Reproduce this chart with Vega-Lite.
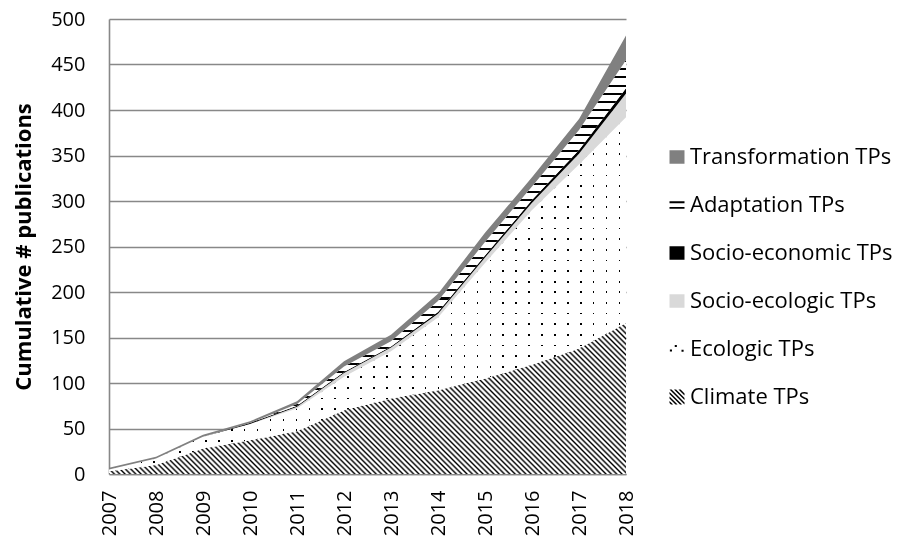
{
"$schema": "https://vega.github.io/schema/vega-lite/v6.json",
"padding": {"left": 12, "top": 9, "right": 0, "bottom": 0},
"config": {"view": {"stroke": null}, "font": "Open Sans"},
"resolve": {"scale": {"x": "independent", "y": "independent"}},
"spacing": 33,
"datasets": {
"counts": [
{"year": 2007, "Climate TPs": 3, "Ecologic TPs": 2, "Socio-ecologic TPs": 0, "Socio-economic TPs": 0, "Adaptation TPs": 0, "Transformation TPs": 2},
{"year": 2008, "Climate TPs": 10, "Ecologic TPs": 7, "Socio-ecologic TPs": 0, "Socio-economic TPs": 0, "Adaptation TPs": 0, "Transformation TPs": 2},
{"year": 2009, "Climate TPs": 28, "Ecologic TPs": 13, "Socio-ecologic TPs": 0, "Socio-economic TPs": 0, "Adaptation TPs": 0, "Transformation TPs": 2},
{"year": 2010, "Climate TPs": 37, "Ecologic TPs": 18, "Socio-ecologic TPs": 0, "Socio-economic TPs": 1, "Adaptation TPs": 0, "Transformation TPs": 2},
{"year": 2011, "Climate TPs": 47, "Ecologic TPs": 25, "Socio-ecologic TPs": 2, "Socio-economic TPs": 1, "Adaptation TPs": 2, "Transformation TPs": 3},
{"year": 2012, "Climate TPs": 70, "Ecologic TPs": 37, "Socio-ecologic TPs": 4, "Socio-economic TPs": 1, "Adaptation TPs": 6, "Transformation TPs": 6},
{"year": 2013, "Climate TPs": 83, "Ecologic TPs": 52, "Socio-ecologic TPs": 4, "Socio-economic TPs": 1, "Adaptation TPs": 6, "Transformation TPs": 7},
{"year": 2014, "Climate TPs": 92, "Ecologic TPs": 80, "Socio-ecologic TPs": 4, "Socio-economic TPs": 2, "Adaptation TPs": 12, "Transformation TPs": 8},
{"year": 2015, "Climate TPs": 105, "Ecologic TPs": 127, "Socio-ecologic TPs": 6, "Socio-economic TPs": 2, "Adaptation TPs": 15, "Transformation TPs": 10},
{"year": 2016, "Climate TPs": 120, "Ecologic TPs": 170, "Socio-ecologic TPs": 8, "Socio-economic TPs": 3, "Adaptation TPs": 15, "Transformation TPs": 10},
{"year": 2017, "Climate TPs": 138, "Ecologic TPs": 202, "Socio-ecologic TPs": 12, "Socio-economic TPs": 4, "Adaptation TPs": 22, "Transformation TPs": 12},
{"year": 2018, "Climate TPs": 166, "Ecologic TPs": 226, "Socio-ecologic TPs": 26, "Socio-economic TPs": 6, "Adaptation TPs": 31, "Transformation TPs": 27}
],
"series": [
{"series": "Transformation TPs", "rank": 6},
{"series": "Adaptation TPs", "rank": 5},
{"series": "Socio-economic TPs", "rank": 4},
{"series": "Socio-ecologic TPs", "rank": 3},
{"series": "Ecologic TPs", "rank": 2},
{"series": "Climate TPs", "rank": 1}
]
},
"hconcat": [
{
"width": 517,
"height": 455,
"data": {"name": "counts"},
"transform": [
{"fold": ["Climate TPs", "Ecologic TPs", "Socio-ecologic TPs", "Socio-economic TPs", "Adaptation TPs", "Transformation TPs"], "as": ["series", "n"]},
{"lookup": "series", "from": {"data": {"name": "series"}, "key": "series", "fields": ["rank"]}},
{"stack": "n", "groupby": ["year"], "sort": [{"field": "rank", "order": "ascending"}], "as": ["n0", "n1"]}
],
"encoding": {
"x": {"field": "year", "type": "quantitative", "scale": {"domain": [2007, 2018], "nice": false, "zero": false},
 "axis": {"values": [2007,2008,2009,2010,2011,2012,2013,2014,2015,2016,2017,2018], "format": "d", "title": null, "labelAngle": 270, "labelPadding": 16, "ticks": false, "grid": false, "domainColor": "#888888", "domainWidth": 1.6, "labelFontSize": 20, "labelColor": "#000", "labelFlush": false, "labelOverlap": false, "labelBound": false}},
"y": {"field": "n1", "type": "quantitative", "scale": {"domain": [0, 500], "nice": false},
 "axis": {"values": [0,50,100,150,200,250,300,350,400,450,500], "title": "Cumulative # publications", "titleFontSize": 22, "titleFontWeight": "bold", "titleColor": "#000", "titlePadding": 15, "labelPadding": 24, "ticks": false, "labelFontSize": 20, "labelColor": "#000", "domainColor": "#888888", "domainWidth": 1.6, "gridColor": "#888888", "gridWidth": 1.6, "labelFlush": false}},
"y2": {"field": "n0"}
},
"layer": [
{"transform": [{"filter": {"field": "series", "equal": "Climate TPs"}}],
 "mark": {"type": "area", "fill": {"gradient": "linear", "x1": 0, "y1": 1, "x2": 1.1905, "y2": 0.6524, "stops": [
{"offset":0,"color":"#000"},{"offset":0.003,"color":"#fff"},{"offset":0.005,"color":"#fff"},
{"offset":0.008,"color":"#000"},{"offset":0.011,"color":"#fff"},{"offset":0.013,"color":"#fff"},
{"offset":0.016,"color":"#000"},{"offset":0.019,"color":"#fff"},{"offset":0.021,"color":"#fff"},
{"offset":0.024,"color":"#000"},{"offset":0.027,"color":"#fff"},{"offset":0.029,"color":"#fff"},
{"offset":0.032,"color":"#000"},{"offset":0.035,"color":"#fff"},{"offset":0.037,"color":"#fff"},
{"offset":0.04,"color":"#000"},{"offset":0.043,"color":"#fff"},{"offset":0.045,"color":"#fff"},
{"offset":0.048,"color":"#000"},{"offset":0.051,"color":"#fff"},{"offset":0.053,"color":"#fff"},
{"offset":0.056,"color":"#000"},{"offset":0.059,"color":"#fff"},{"offset":0.061,"color":"#fff"},
{"offset":0.064,"color":"#000"},{"offset":0.067,"color":"#fff"},{"offset":0.069,"color":"#fff"},
{"offset":0.072,"color":"#000"},{"offset":0.075,"color":"#fff"},{"offset":0.077,"color":"#fff"},
{"offset":0.08,"color":"#000"},{"offset":0.083,"color":"#fff"},{"offset":0.085,"color":"#fff"},
{"offset":0.088,"color":"#000"},{"offset":0.091,"color":"#fff"},{"offset":0.093,"color":"#fff"},
{"offset":0.096,"color":"#000"},{"offset":0.099,"color":"#fff"},{"offset":0.101,"color":"#fff"},
{"offset":0.104,"color":"#000"},{"offset":0.107,"color":"#fff"},{"offset":0.109,"color":"#fff"},
{"offset":0.112,"color":"#000"},{"offset":0.115,"color":"#fff"},{"offset":0.117,"color":"#fff"},
{"offset":0.12,"color":"#000"},{"offset":0.123,"color":"#fff"},{"offset":0.125,"color":"#fff"},
{"offset":0.128,"color":"#000"},{"offset":0.131,"color":"#fff"},{"offset":0.133,"color":"#fff"},
{"offset":0.136,"color":"#000"},{"offset":0.139,"color":"#fff"},{"offset":0.141,"color":"#fff"},
{"offset":0.144,"color":"#000"},{"offset":0.147,"color":"#fff"},{"offset":0.149,"color":"#fff"},
{"offset":0.152,"color":"#000"},{"offset":0.155,"color":"#fff"},{"offset":0.157,"color":"#fff"},
{"offset":0.16,"color":"#000"},{"offset":0.163,"color":"#fff"},{"offset":0.165,"color":"#fff"},
{"offset":0.168,"color":"#000"},{"offset":0.171,"color":"#fff"},{"offset":0.173,"color":"#fff"},
{"offset":0.176,"color":"#000"},{"offset":0.179,"color":"#fff"},{"offset":0.181,"color":"#fff"},
{"offset":0.184,"color":"#000"},{"offset":0.187,"color":"#fff"},{"offset":0.189,"color":"#fff"},
{"offset":0.192,"color":"#000"},{"offset":0.195,"color":"#fff"},{"offset":0.197,"color":"#fff"},
{"offset":0.2,"color":"#000"},{"offset":0.203,"color":"#fff"},{"offset":0.205,"color":"#fff"},
{"offset":0.208,"color":"#000"},{"offset":0.211,"color":"#fff"},{"offset":0.213,"color":"#fff"},
{"offset":0.216,"color":"#000"},{"offset":0.219,"color":"#fff"},{"offset":0.221,"color":"#fff"},
{"offset":0.224,"color":"#000"},{"offset":0.227,"color":"#fff"},{"offset":0.229,"color":"#fff"},
{"offset":0.232,"color":"#000"},{"offset":0.235,"color":"#fff"},{"offset":0.237,"color":"#fff"},
{"offset":0.24,"color":"#000"},{"offset":0.243,"color":"#fff"},{"offset":0.245,"color":"#fff"},
{"offset":0.248,"color":"#000"},{"offset":0.251,"color":"#fff"},{"offset":0.253,"color":"#fff"},
{"offset":0.256,"color":"#000"},{"offset":0.259,"color":"#fff"},{"offset":0.261,"color":"#fff"},
{"offset":0.264,"color":"#000"},{"offset":0.267,"color":"#fff"},{"offset":0.269,"color":"#fff"},
{"offset":0.272,"color":"#000"},{"offset":0.275,"color":"#fff"},{"offset":0.277,"color":"#fff"},
{"offset":0.28,"color":"#000"},{"offset":0.283,"color":"#fff"},{"offset":0.285,"color":"#fff"},
{"offset":0.288,"color":"#000"},{"offset":0.291,"color":"#fff"},{"offset":0.293,"color":"#fff"},
{"offset":0.296,"color":"#000"},{"offset":0.299,"color":"#fff"},{"offset":0.301,"color":"#fff"},
{"offset":0.304,"color":"#000"},{"offset":0.307,"color":"#fff"},{"offset":0.309,"color":"#fff"},
{"offset":0.312,"color":"#000"},{"offset":0.315,"color":"#fff"},{"offset":0.317,"color":"#fff"},
{"offset":0.32,"color":"#000"},{"offset":0.323,"color":"#fff"},{"offset":0.325,"color":"#fff"},
{"offset":0.328,"color":"#000"},{"offset":0.331,"color":"#fff"},{"offset":0.333,"color":"#fff"},
{"offset":0.336,"color":"#000"},{"offset":0.339,"color":"#fff"},{"offset":0.341,"color":"#fff"},
{"offset":0.344,"color":"#000"},{"offset":0.347,"color":"#fff"},{"offset":0.349,"color":"#fff"},
{"offset":0.352,"color":"#000"},{"offset":0.355,"color":"#fff"},{"offset":0.357,"color":"#fff"},
{"offset":0.36,"color":"#000"},{"offset":0.363,"color":"#fff"},{"offset":0.365,"color":"#fff"},
{"offset":0.368,"color":"#000"},{"offset":0.371,"color":"#fff"},{"offset":0.373,"color":"#fff"},
{"offset":0.376,"color":"#000"},{"offset":0.379,"color":"#fff"},{"offset":0.381,"color":"#fff"},
{"offset":0.384,"color":"#000"},{"offset":0.387,"color":"#fff"},{"offset":0.389,"color":"#fff"},
{"offset":0.392,"color":"#000"},{"offset":0.395,"color":"#fff"},{"offset":0.397,"color":"#fff"},
{"offset":0.4,"color":"#000"},{"offset":0.403,"color":"#fff"},{"offset":0.405,"color":"#fff"},
{"offset":0.408,"color":"#000"},{"offset":0.411,"color":"#fff"},{"offset":0.413,"color":"#fff"},
{"offset":0.416,"color":"#000"},{"offset":0.419,"color":"#fff"},{"offset":0.421,"color":"#fff"},
{"offset":0.424,"color":"#000"},{"offset":0.427,"color":"#fff"},{"offset":0.429,"color":"#fff"},
{"offset":0.432,"color":"#000"},{"offset":0.435,"color":"#fff"},{"offset":0.437,"color":"#fff"},
{"offset":0.44,"color":"#000"},{"offset":0.443,"color":"#fff"},{"offset":0.445,"color":"#fff"},
{"offset":0.448,"color":"#000"},{"offset":0.451,"color":"#fff"},{"offset":0.453,"color":"#fff"},
{"offset":0.456,"color":"#000"},{"offset":0.459,"color":"#fff"},{"offset":0.461,"color":"#fff"},
{"offset":0.464,"color":"#000"},{"offset":0.467,"color":"#fff"},{"offset":0.469,"color":"#fff"},
{"offset":0.472,"color":"#000"},{"offset":0.475,"color":"#fff"},{"offset":0.477,"color":"#fff"},
{"offset":0.48,"color":"#000"},{"offset":0.483,"color":"#fff"},{"offset":0.485,"color":"#fff"},
{"offset":0.488,"color":"#000"},{"offset":0.491,"color":"#fff"},{"offset":0.493,"color":"#fff"},
{"offset":0.496,"color":"#000"},{"offset":0.499,"color":"#fff"},{"offset":0.501,"color":"#fff"},
{"offset":0.504,"color":"#000"},{"offset":0.507,"color":"#fff"},{"offset":0.509,"color":"#fff"},
{"offset":0.512,"color":"#000"},{"offset":0.515,"color":"#fff"},{"offset":0.517,"color":"#fff"},
{"offset":0.52,"color":"#000"},{"offset":0.523,"color":"#fff"},{"offset":0.525,"color":"#fff"},
{"offset":0.528,"color":"#000"},{"offset":0.531,"color":"#fff"},{"offset":0.533,"color":"#fff"},
{"offset":0.536,"color":"#000"},{"offset":0.539,"color":"#fff"},{"offset":0.541,"color":"#fff"},
{"offset":0.544,"color":"#000"},{"offset":0.547,"color":"#fff"},{"offset":0.549,"color":"#fff"},
{"offset":0.552,"color":"#000"},{"offset":0.555,"color":"#fff"},{"offset":0.557,"color":"#fff"},
{"offset":0.56,"color":"#000"},{"offset":0.563,"color":"#fff"},{"offset":0.565,"color":"#fff"},
{"offset":0.568,"color":"#000"},{"offset":0.571,"color":"#fff"},{"offset":0.573,"color":"#fff"},
{"offset":0.576,"color":"#000"},{"offset":0.579,"color":"#fff"},{"offset":0.581,"color":"#fff"},
{"offset":0.584,"color":"#000"},{"offset":0.587,"color":"#fff"},{"offset":0.589,"color":"#fff"},
{"offset":0.592,"color":"#000"},{"offset":0.595,"color":"#fff"},{"offset":0.597,"color":"#fff"},
{"offset":0.6,"color":"#000"},{"offset":0.603,"color":"#fff"},{"offset":0.605,"color":"#fff"},
{"offset":0.608,"color":"#000"},{"offset":0.611,"color":"#fff"},{"offset":0.613,"color":"#fff"},
{"offset":0.616,"color":"#000"},{"offset":0.619,"color":"#fff"},{"offset":0.621,"color":"#fff"},
{"offset":0.624,"color":"#000"},{"offset":0.627,"color":"#fff"},{"offset":0.629,"color":"#fff"},
{"offset":0.632,"color":"#000"},{"offset":0.635,"color":"#fff"},{"offset":0.637,"color":"#fff"},
{"offset":0.64,"color":"#000"},{"offset":0.643,"color":"#fff"},{"offset":0.645,"color":"#fff"},
{"offset":0.648,"color":"#000"},{"offset":0.651,"color":"#fff"},{"offset":0.653,"color":"#fff"},
{"offset":0.656,"color":"#000"},{"offset":0.659,"color":"#fff"},{"offset":0.661,"color":"#fff"},
{"offset":0.664,"color":"#000"},{"offset":0.667,"color":"#fff"},{"offset":0.669,"color":"#fff"},
{"offset":0.672,"color":"#000"},{"offset":0.675,"color":"#fff"},{"offset":0.677,"color":"#fff"},
{"offset":0.68,"color":"#000"},{"offset":0.683,"color":"#fff"},{"offset":0.685,"color":"#fff"},
{"offset":0.688,"color":"#000"},{"offset":0.691,"color":"#fff"},{"offset":0.693,"color":"#fff"},
{"offset":0.696,"color":"#000"},{"offset":0.699,"color":"#fff"},{"offset":0.701,"color":"#fff"},
{"offset":0.704,"color":"#000"},{"offset":0.707,"color":"#fff"},{"offset":0.709,"color":"#fff"},
{"offset":0.712,"color":"#000"},{"offset":0.715,"color":"#fff"},{"offset":0.717,"color":"#fff"},
{"offset":0.72,"color":"#000"},{"offset":0.723,"color":"#fff"},{"offset":0.725,"color":"#fff"},
{"offset":0.728,"color":"#000"},{"offset":0.731,"color":"#fff"},{"offset":0.733,"color":"#fff"},
{"offset":0.736,"color":"#000"},{"offset":0.739,"color":"#fff"},{"offset":0.741,"color":"#fff"},
{"offset":0.744,"color":"#000"},{"offset":0.747,"color":"#fff"},{"offset":0.749,"color":"#fff"},
{"offset":0.752,"color":"#000"},{"offset":0.755,"color":"#fff"},{"offset":0.757,"color":"#fff"},
{"offset":0.76,"color":"#000"},{"offset":0.763,"color":"#fff"},{"offset":0.765,"color":"#fff"},
{"offset":0.768,"color":"#000"},{"offset":0.771,"color":"#fff"},{"offset":0.773,"color":"#fff"},
{"offset":0.776,"color":"#000"},{"offset":0.779,"color":"#fff"},{"offset":0.781,"color":"#fff"},
{"offset":0.784,"color":"#000"},{"offset":0.787,"color":"#fff"},{"offset":0.789,"color":"#fff"},
{"offset":0.792,"color":"#000"},{"offset":0.795,"color":"#fff"},{"offset":0.797,"color":"#fff"},
{"offset":0.8,"color":"#000"},{"offset":0.803,"color":"#fff"},{"offset":0.805,"color":"#fff"},
{"offset":0.808,"color":"#000"},{"offset":0.811,"color":"#fff"},{"offset":0.813,"color":"#fff"},
{"offset":0.816,"color":"#000"},{"offset":0.819,"color":"#fff"},{"offset":0.821,"color":"#fff"},
{"offset":0.824,"color":"#000"},{"offset":0.827,"color":"#fff"},{"offset":0.829,"color":"#fff"},
{"offset":0.832,"color":"#000"},{"offset":0.835,"color":"#fff"},{"offset":0.837,"color":"#fff"},
{"offset":0.84,"color":"#000"},{"offset":0.843,"color":"#fff"},{"offset":0.845,"color":"#fff"},
{"offset":0.848,"color":"#000"},{"offset":0.851,"color":"#fff"},{"offset":0.853,"color":"#fff"},
{"offset":0.856,"color":"#000"},{"offset":0.859,"color":"#fff"},{"offset":0.861,"color":"#fff"},
{"offset":0.864,"color":"#000"},{"offset":0.867,"color":"#fff"},{"offset":0.869,"color":"#fff"},
{"offset":0.872,"color":"#000"},{"offset":0.875,"color":"#fff"},{"offset":0.877,"color":"#fff"},
{"offset":0.88,"color":"#000"},{"offset":0.883,"color":"#fff"},{"offset":0.885,"color":"#fff"},
{"offset":0.888,"color":"#000"},{"offset":0.891,"color":"#fff"},{"offset":0.893,"color":"#fff"},
{"offset":0.896,"color":"#000"},{"offset":0.899,"color":"#fff"},{"offset":0.901,"color":"#fff"},
{"offset":0.904,"color":"#000"},{"offset":0.907,"color":"#fff"},{"offset":0.909,"color":"#fff"},
{"offset":0.912,"color":"#000"},{"offset":0.915,"color":"#fff"},{"offset":0.917,"color":"#fff"},
{"offset":0.92,"color":"#000"},{"offset":0.923,"color":"#fff"},{"offset":0.925,"color":"#fff"},
{"offset":0.928,"color":"#000"},{"offset":0.931,"color":"#fff"},{"offset":0.933,"color":"#fff"},
{"offset":0.936,"color":"#000"},{"offset":0.939,"color":"#fff"},{"offset":0.941,"color":"#fff"},
{"offset":0.944,"color":"#000"},{"offset":0.947,"color":"#fff"},{"offset":0.949,"color":"#fff"},
{"offset":0.952,"color":"#000"},{"offset":0.955,"color":"#fff"},{"offset":0.957,"color":"#fff"},
{"offset":0.96,"color":"#000"},{"offset":0.963,"color":"#fff"},{"offset":0.965,"color":"#fff"},
{"offset":0.968,"color":"#000"},{"offset":0.971,"color":"#fff"},{"offset":0.973,"color":"#fff"},
{"offset":0.976,"color":"#000"},{"offset":0.979,"color":"#fff"},{"offset":0.981,"color":"#fff"},
{"offset":0.984,"color":"#000"},{"offset":0.987,"color":"#fff"},{"offset":0.989,"color":"#fff"},
{"offset":0.992,"color":"#000"},{"offset":0.995,"color":"#fff"},{"offset":0.997,"color":"#fff"},
{"offset":1,"color":"#000"}
]}}},
{"transform": [{"filter": {"field": "series", "equal": "Ecologic TPs"}}],
 "mark": {"type": "area", "fill": {"gradient": "linear", "x1": 0, "y1": 0, "x2": 1, "y2": 0, "stops": [
{"offset":0,"color":"#fff"},
{"offset":0.011,"color":"#fff"},{"offset":0.011,"color":"#000"},{"offset":0.014,"color":"#000"},{"offset":0.014,"color":"#fff"},
{"offset":0.036,"color":"#fff"},{"offset":0.036,"color":"#000"},{"offset":0.039,"color":"#000"},{"offset":0.039,"color":"#fff"},
{"offset":0.061,"color":"#fff"},{"offset":0.061,"color":"#000"},{"offset":0.064,"color":"#000"},{"offset":0.064,"color":"#fff"},
{"offset":0.086,"color":"#fff"},{"offset":0.086,"color":"#000"},{"offset":0.089,"color":"#000"},{"offset":0.089,"color":"#fff"},
{"offset":0.111,"color":"#fff"},{"offset":0.111,"color":"#000"},{"offset":0.114,"color":"#000"},{"offset":0.114,"color":"#fff"},
{"offset":0.136,"color":"#fff"},{"offset":0.136,"color":"#000"},{"offset":0.139,"color":"#000"},{"offset":0.139,"color":"#fff"},
{"offset":0.161,"color":"#fff"},{"offset":0.161,"color":"#000"},{"offset":0.164,"color":"#000"},{"offset":0.164,"color":"#fff"},
{"offset":0.186,"color":"#fff"},{"offset":0.186,"color":"#000"},{"offset":0.189,"color":"#000"},{"offset":0.189,"color":"#fff"},
{"offset":0.211,"color":"#fff"},{"offset":0.211,"color":"#000"},{"offset":0.214,"color":"#000"},{"offset":0.214,"color":"#fff"},
{"offset":0.236,"color":"#fff"},{"offset":0.236,"color":"#000"},{"offset":0.239,"color":"#000"},{"offset":0.239,"color":"#fff"},
{"offset":0.261,"color":"#fff"},{"offset":0.261,"color":"#000"},{"offset":0.264,"color":"#000"},{"offset":0.264,"color":"#fff"},
{"offset":0.286,"color":"#fff"},{"offset":0.286,"color":"#000"},{"offset":0.289,"color":"#000"},{"offset":0.289,"color":"#fff"},
{"offset":0.311,"color":"#fff"},{"offset":0.311,"color":"#000"},{"offset":0.314,"color":"#000"},{"offset":0.314,"color":"#fff"},
{"offset":0.336,"color":"#fff"},{"offset":0.336,"color":"#000"},{"offset":0.339,"color":"#000"},{"offset":0.339,"color":"#fff"},
{"offset":0.361,"color":"#fff"},{"offset":0.361,"color":"#000"},{"offset":0.364,"color":"#000"},{"offset":0.364,"color":"#fff"},
{"offset":0.386,"color":"#fff"},{"offset":0.386,"color":"#000"},{"offset":0.389,"color":"#000"},{"offset":0.389,"color":"#fff"},
{"offset":0.411,"color":"#fff"},{"offset":0.411,"color":"#000"},{"offset":0.414,"color":"#000"},{"offset":0.414,"color":"#fff"},
{"offset":0.436,"color":"#fff"},{"offset":0.436,"color":"#000"},{"offset":0.439,"color":"#000"},{"offset":0.439,"color":"#fff"},
{"offset":0.461,"color":"#fff"},{"offset":0.461,"color":"#000"},{"offset":0.464,"color":"#000"},{"offset":0.464,"color":"#fff"},
{"offset":0.486,"color":"#fff"},{"offset":0.486,"color":"#000"},{"offset":0.489,"color":"#000"},{"offset":0.489,"color":"#fff"},
{"offset":0.511,"color":"#fff"},{"offset":0.511,"color":"#000"},{"offset":0.514,"color":"#000"},{"offset":0.514,"color":"#fff"},
{"offset":0.536,"color":"#fff"},{"offset":0.536,"color":"#000"},{"offset":0.539,"color":"#000"},{"offset":0.539,"color":"#fff"},
{"offset":0.561,"color":"#fff"},{"offset":0.561,"color":"#000"},{"offset":0.564,"color":"#000"},{"offset":0.564,"color":"#fff"},
{"offset":0.586,"color":"#fff"},{"offset":0.586,"color":"#000"},{"offset":0.589,"color":"#000"},{"offset":0.589,"color":"#fff"},
{"offset":0.611,"color":"#fff"},{"offset":0.611,"color":"#000"},{"offset":0.614,"color":"#000"},{"offset":0.614,"color":"#fff"},
{"offset":0.636,"color":"#fff"},{"offset":0.636,"color":"#000"},{"offset":0.639,"color":"#000"},{"offset":0.639,"color":"#fff"},
{"offset":0.661,"color":"#fff"},{"offset":0.661,"color":"#000"},{"offset":0.664,"color":"#000"},{"offset":0.664,"color":"#fff"},
{"offset":0.686,"color":"#fff"},{"offset":0.686,"color":"#000"},{"offset":0.689,"color":"#000"},{"offset":0.689,"color":"#fff"},
{"offset":0.711,"color":"#fff"},{"offset":0.711,"color":"#000"},{"offset":0.714,"color":"#000"},{"offset":0.714,"color":"#fff"},
{"offset":0.736,"color":"#fff"},{"offset":0.736,"color":"#000"},{"offset":0.739,"color":"#000"},{"offset":0.739,"color":"#fff"},
{"offset":0.761,"color":"#fff"},{"offset":0.761,"color":"#000"},{"offset":0.764,"color":"#000"},{"offset":0.764,"color":"#fff"},
{"offset":0.786,"color":"#fff"},{"offset":0.786,"color":"#000"},{"offset":0.789,"color":"#000"},{"offset":0.789,"color":"#fff"},
{"offset":0.811,"color":"#fff"},{"offset":0.811,"color":"#000"},{"offset":0.814,"color":"#000"},{"offset":0.814,"color":"#fff"},
{"offset":0.836,"color":"#fff"},{"offset":0.836,"color":"#000"},{"offset":0.839,"color":"#000"},{"offset":0.839,"color":"#fff"},
{"offset":0.861,"color":"#fff"},{"offset":0.861,"color":"#000"},{"offset":0.864,"color":"#000"},{"offset":0.864,"color":"#fff"},
{"offset":0.886,"color":"#fff"},{"offset":0.886,"color":"#000"},{"offset":0.889,"color":"#000"},{"offset":0.889,"color":"#fff"},
{"offset":0.911,"color":"#fff"},{"offset":0.911,"color":"#000"},{"offset":0.914,"color":"#000"},{"offset":0.914,"color":"#fff"},
{"offset":0.936,"color":"#fff"},{"offset":0.936,"color":"#000"},{"offset":0.939,"color":"#000"},{"offset":0.939,"color":"#fff"},
{"offset":0.961,"color":"#fff"},{"offset":0.961,"color":"#000"},{"offset":0.964,"color":"#000"},{"offset":0.964,"color":"#fff"},
{"offset":0.986,"color":"#fff"},{"offset":0.986,"color":"#000"},{"offset":0.989,"color":"#000"},{"offset":0.989,"color":"#fff"},
{"offset":1,"color":"#fff"}
]}}},
{"transform": [{"filter": {"field": "series", "equal": "Ecologic TPs"}}],
 "mark": {"type": "area", "blend": "screen", "fill": {"gradient": "linear", "x1": 0, "y1": 0, "x2": 0, "y2": 1, "stops": [
{"offset":0,"color":"#fff"},
{"offset":0.012,"color":"#fff"},{"offset":0.012,"color":"#000"},{"offset":0.017,"color":"#000"},{"offset":0.017,"color":"#fff"},
{"offset":0.042,"color":"#fff"},{"offset":0.042,"color":"#000"},{"offset":0.047,"color":"#000"},{"offset":0.047,"color":"#fff"},
{"offset":0.072,"color":"#fff"},{"offset":0.072,"color":"#000"},{"offset":0.077,"color":"#000"},{"offset":0.077,"color":"#fff"},
{"offset":0.102,"color":"#fff"},{"offset":0.102,"color":"#000"},{"offset":0.107,"color":"#000"},{"offset":0.107,"color":"#fff"},
{"offset":0.132,"color":"#fff"},{"offset":0.132,"color":"#000"},{"offset":0.137,"color":"#000"},{"offset":0.137,"color":"#fff"},
{"offset":0.162,"color":"#fff"},{"offset":0.162,"color":"#000"},{"offset":0.167,"color":"#000"},{"offset":0.167,"color":"#fff"},
{"offset":0.192,"color":"#fff"},{"offset":0.192,"color":"#000"},{"offset":0.197,"color":"#000"},{"offset":0.197,"color":"#fff"},
{"offset":0.222,"color":"#fff"},{"offset":0.222,"color":"#000"},{"offset":0.227,"color":"#000"},{"offset":0.227,"color":"#fff"},
{"offset":0.252,"color":"#fff"},{"offset":0.252,"color":"#000"},{"offset":0.257,"color":"#000"},{"offset":0.257,"color":"#fff"},
{"offset":0.282,"color":"#fff"},{"offset":0.282,"color":"#000"},{"offset":0.287,"color":"#000"},{"offset":0.287,"color":"#fff"},
{"offset":0.312,"color":"#fff"},{"offset":0.312,"color":"#000"},{"offset":0.317,"color":"#000"},{"offset":0.317,"color":"#fff"},
{"offset":0.342,"color":"#fff"},{"offset":0.342,"color":"#000"},{"offset":0.347,"color":"#000"},{"offset":0.347,"color":"#fff"},
{"offset":0.372,"color":"#fff"},{"offset":0.372,"color":"#000"},{"offset":0.377,"color":"#000"},{"offset":0.377,"color":"#fff"},
{"offset":0.402,"color":"#fff"},{"offset":0.402,"color":"#000"},{"offset":0.407,"color":"#000"},{"offset":0.407,"color":"#fff"},
{"offset":0.432,"color":"#fff"},{"offset":0.432,"color":"#000"},{"offset":0.437,"color":"#000"},{"offset":0.437,"color":"#fff"},
{"offset":0.462,"color":"#fff"},{"offset":0.462,"color":"#000"},{"offset":0.467,"color":"#000"},{"offset":0.467,"color":"#fff"},
{"offset":0.492,"color":"#fff"},{"offset":0.492,"color":"#000"},{"offset":0.497,"color":"#000"},{"offset":0.497,"color":"#fff"},
{"offset":0.522,"color":"#fff"},{"offset":0.522,"color":"#000"},{"offset":0.527,"color":"#000"},{"offset":0.527,"color":"#fff"},
{"offset":0.552,"color":"#fff"},{"offset":0.552,"color":"#000"},{"offset":0.557,"color":"#000"},{"offset":0.557,"color":"#fff"},
{"offset":0.582,"color":"#fff"},{"offset":0.582,"color":"#000"},{"offset":0.587,"color":"#000"},{"offset":0.587,"color":"#fff"},
{"offset":0.612,"color":"#fff"},{"offset":0.612,"color":"#000"},{"offset":0.617,"color":"#000"},{"offset":0.617,"color":"#fff"},
{"offset":0.642,"color":"#fff"},{"offset":0.642,"color":"#000"},{"offset":0.647,"color":"#000"},{"offset":0.647,"color":"#fff"},
{"offset":0.672,"color":"#fff"},{"offset":0.672,"color":"#000"},{"offset":0.677,"color":"#000"},{"offset":0.677,"color":"#fff"},
{"offset":0.702,"color":"#fff"},{"offset":0.702,"color":"#000"},{"offset":0.707,"color":"#000"},{"offset":0.707,"color":"#fff"},
{"offset":0.732,"color":"#fff"},{"offset":0.732,"color":"#000"},{"offset":0.737,"color":"#000"},{"offset":0.737,"color":"#fff"},
{"offset":0.762,"color":"#fff"},{"offset":0.762,"color":"#000"},{"offset":0.767,"color":"#000"},{"offset":0.767,"color":"#fff"},
{"offset":0.792,"color":"#fff"},{"offset":0.792,"color":"#000"},{"offset":0.797,"color":"#000"},{"offset":0.797,"color":"#fff"},
{"offset":0.822,"color":"#fff"},{"offset":0.822,"color":"#000"},{"offset":0.827,"color":"#000"},{"offset":0.827,"color":"#fff"},
{"offset":0.852,"color":"#fff"},{"offset":0.852,"color":"#000"},{"offset":0.857,"color":"#000"},{"offset":0.857,"color":"#fff"},
{"offset":0.882,"color":"#fff"},{"offset":0.882,"color":"#000"},{"offset":0.887,"color":"#000"},{"offset":0.887,"color":"#fff"},
{"offset":0.912,"color":"#fff"},{"offset":0.912,"color":"#000"},{"offset":0.917,"color":"#000"},{"offset":0.917,"color":"#fff"},
{"offset":0.942,"color":"#fff"},{"offset":0.942,"color":"#000"},{"offset":0.947,"color":"#000"},{"offset":0.947,"color":"#fff"},
{"offset":0.972,"color":"#fff"},{"offset":0.972,"color":"#000"},{"offset":0.977,"color":"#000"},{"offset":0.977,"color":"#fff"},
{"offset":1,"color":"#fff"}
]}}},
{"transform": [{"filter": {"field": "series", "equal": "Socio-ecologic TPs"}}],
 "mark": {"type": "area", "fill": "#d9d9d9"}},
{"transform": [{"filter": {"field": "series", "equal": "Socio-economic TPs"}}],
 "mark": {"type": "area", "fill": "#000"}},
{"transform": [{"filter": {"field": "series", "equal": "Adaptation TPs"}}],
 "mark": {"type": "area", "fill": {"gradient": "linear", "x1": 0, "y1": 0, "x2": 0, "y2": 1, "stops": [
{"offset":0,"color":"#000"},{"offset":0.005,"color":"#000"},{"offset":0.005,"color":"#fff"},{"offset":0.02,"color":"#fff"},
{"offset":0.02,"color":"#000"},{"offset":0.025,"color":"#000"},{"offset":0.025,"color":"#fff"},{"offset":0.04,"color":"#fff"},
{"offset":0.04,"color":"#000"},{"offset":0.045,"color":"#000"},{"offset":0.045,"color":"#fff"},{"offset":0.06,"color":"#fff"},
{"offset":0.06,"color":"#000"},{"offset":0.065,"color":"#000"},{"offset":0.065,"color":"#fff"},{"offset":0.08,"color":"#fff"},
{"offset":0.08,"color":"#000"},{"offset":0.085,"color":"#000"},{"offset":0.085,"color":"#fff"},{"offset":0.1,"color":"#fff"},
{"offset":0.1,"color":"#000"},{"offset":0.105,"color":"#000"},{"offset":0.105,"color":"#fff"},{"offset":0.12,"color":"#fff"},
{"offset":0.12,"color":"#000"},{"offset":0.125,"color":"#000"},{"offset":0.125,"color":"#fff"},{"offset":0.14,"color":"#fff"},
{"offset":0.14,"color":"#000"},{"offset":0.145,"color":"#000"},{"offset":0.145,"color":"#fff"},{"offset":0.16,"color":"#fff"},
{"offset":0.16,"color":"#000"},{"offset":0.165,"color":"#000"},{"offset":0.165,"color":"#fff"},{"offset":0.18,"color":"#fff"},
{"offset":0.18,"color":"#000"},{"offset":0.185,"color":"#000"},{"offset":0.185,"color":"#fff"},{"offset":0.2,"color":"#fff"},
{"offset":0.2,"color":"#000"},{"offset":0.205,"color":"#000"},{"offset":0.205,"color":"#fff"},{"offset":0.22,"color":"#fff"},
{"offset":0.22,"color":"#000"},{"offset":0.225,"color":"#000"},{"offset":0.225,"color":"#fff"},{"offset":0.24,"color":"#fff"},
{"offset":0.24,"color":"#000"},{"offset":0.245,"color":"#000"},{"offset":0.245,"color":"#fff"},{"offset":0.26,"color":"#fff"},
{"offset":0.26,"color":"#000"},{"offset":0.265,"color":"#000"},{"offset":0.265,"color":"#fff"},{"offset":0.28,"color":"#fff"},
{"offset":0.28,"color":"#000"},{"offset":0.285,"color":"#000"},{"offset":0.285,"color":"#fff"},{"offset":0.3,"color":"#fff"},
{"offset":0.3,"color":"#000"},{"offset":0.305,"color":"#000"},{"offset":0.305,"color":"#fff"},{"offset":0.32,"color":"#fff"},
{"offset":0.32,"color":"#000"},{"offset":0.325,"color":"#000"},{"offset":0.325,"color":"#fff"},{"offset":0.34,"color":"#fff"},
{"offset":0.34,"color":"#000"},{"offset":0.345,"color":"#000"},{"offset":0.345,"color":"#fff"},{"offset":0.36,"color":"#fff"},
{"offset":0.36,"color":"#000"},{"offset":0.365,"color":"#000"},{"offset":0.365,"color":"#fff"},{"offset":0.38,"color":"#fff"},
{"offset":0.38,"color":"#000"},{"offset":0.385,"color":"#000"},{"offset":0.385,"color":"#fff"},{"offset":0.4,"color":"#fff"},
{"offset":0.4,"color":"#000"},{"offset":0.405,"color":"#000"},{"offset":0.405,"color":"#fff"},{"offset":0.42,"color":"#fff"},
{"offset":0.42,"color":"#000"},{"offset":0.425,"color":"#000"},{"offset":0.425,"color":"#fff"},{"offset":0.44,"color":"#fff"},
{"offset":0.44,"color":"#000"},{"offset":0.445,"color":"#000"},{"offset":0.445,"color":"#fff"},{"offset":0.46,"color":"#fff"},
{"offset":0.46,"color":"#000"},{"offset":0.465,"color":"#000"},{"offset":0.465,"color":"#fff"},{"offset":0.48,"color":"#fff"},
{"offset":0.48,"color":"#000"},{"offset":0.485,"color":"#000"},{"offset":0.485,"color":"#fff"},{"offset":0.5,"color":"#fff"},
{"offset":0.5,"color":"#000"},{"offset":0.505,"color":"#000"},{"offset":0.505,"color":"#fff"},{"offset":0.52,"color":"#fff"},
{"offset":0.52,"color":"#000"},{"offset":0.525,"color":"#000"},{"offset":0.525,"color":"#fff"},{"offset":0.54,"color":"#fff"},
{"offset":0.54,"color":"#000"},{"offset":0.545,"color":"#000"},{"offset":0.545,"color":"#fff"},{"offset":0.56,"color":"#fff"},
{"offset":0.56,"color":"#000"},{"offset":0.565,"color":"#000"},{"offset":0.565,"color":"#fff"},{"offset":0.58,"color":"#fff"},
{"offset":0.58,"color":"#000"},{"offset":0.585,"color":"#000"},{"offset":0.585,"color":"#fff"},{"offset":0.6,"color":"#fff"},
{"offset":0.6,"color":"#000"},{"offset":0.605,"color":"#000"},{"offset":0.605,"color":"#fff"},{"offset":0.62,"color":"#fff"},
{"offset":0.62,"color":"#000"},{"offset":0.625,"color":"#000"},{"offset":0.625,"color":"#fff"},{"offset":0.64,"color":"#fff"},
{"offset":0.64,"color":"#000"},{"offset":0.645,"color":"#000"},{"offset":0.645,"color":"#fff"},{"offset":0.66,"color":"#fff"},
{"offset":0.66,"color":"#000"},{"offset":0.665,"color":"#000"},{"offset":0.665,"color":"#fff"},{"offset":0.68,"color":"#fff"},
{"offset":0.68,"color":"#000"},{"offset":0.685,"color":"#000"},{"offset":0.685,"color":"#fff"},{"offset":0.7,"color":"#fff"},
{"offset":0.7,"color":"#000"},{"offset":0.705,"color":"#000"},{"offset":0.705,"color":"#fff"},{"offset":0.72,"color":"#fff"},
{"offset":0.72,"color":"#000"},{"offset":0.725,"color":"#000"},{"offset":0.725,"color":"#fff"},{"offset":0.74,"color":"#fff"},
{"offset":0.74,"color":"#000"},{"offset":0.745,"color":"#000"},{"offset":0.745,"color":"#fff"},{"offset":0.76,"color":"#fff"},
{"offset":0.76,"color":"#000"},{"offset":0.765,"color":"#000"},{"offset":0.765,"color":"#fff"},{"offset":0.78,"color":"#fff"},
{"offset":0.78,"color":"#000"},{"offset":0.785,"color":"#000"},{"offset":0.785,"color":"#fff"},{"offset":0.8,"color":"#fff"},
{"offset":0.8,"color":"#000"},{"offset":0.805,"color":"#000"},{"offset":0.805,"color":"#fff"},{"offset":0.82,"color":"#fff"},
{"offset":0.82,"color":"#000"},{"offset":0.825,"color":"#000"},{"offset":0.825,"color":"#fff"},{"offset":0.84,"color":"#fff"},
{"offset":0.84,"color":"#000"},{"offset":0.845,"color":"#000"},{"offset":0.845,"color":"#fff"},{"offset":0.86,"color":"#fff"},
{"offset":0.86,"color":"#000"},{"offset":0.865,"color":"#000"},{"offset":0.865,"color":"#fff"},{"offset":0.88,"color":"#fff"},
{"offset":0.88,"color":"#000"},{"offset":0.885,"color":"#000"},{"offset":0.885,"color":"#fff"},{"offset":0.9,"color":"#fff"},
{"offset":0.9,"color":"#000"},{"offset":0.905,"color":"#000"},{"offset":0.905,"color":"#fff"},{"offset":0.92,"color":"#fff"},
{"offset":0.92,"color":"#000"},{"offset":0.925,"color":"#000"},{"offset":0.925,"color":"#fff"},{"offset":0.94,"color":"#fff"},
{"offset":0.94,"color":"#000"},{"offset":0.945,"color":"#000"},{"offset":0.945,"color":"#fff"},{"offset":0.96,"color":"#fff"},
{"offset":0.96,"color":"#000"},{"offset":0.965,"color":"#000"},{"offset":0.965,"color":"#fff"},{"offset":0.98,"color":"#fff"},
{"offset":0.98,"color":"#000"},{"offset":0.985,"color":"#000"},{"offset":0.985,"color":"#fff"},{"offset":1,"color":"#fff"}
]}}},
{"transform": [{"filter": {"field": "series", "equal": "Transformation TPs"}}],
 "mark": {"type": "area", "fill": "#808080"}}
]
},
{
"width": 14,
"height": 455,
"data": {"name": "series"},
"encoding": {
"y": {"field": "rank", "type": "quantitative", "scale": {"domain": [-0.604, 8.875], "nice": false, "zero": false}, "axis": null}
},
"layer": [
{"mark": {"type": "point", "filled": true, "size": 225, "opacity": 1, "strokeWidth": 0},
 "encoding": {
 "shape": {"field": "series", "legend": null, "scale": {"domain": ["Transformation TPs", "Adaptation TPs", "Socio-economic TPs", "Socio-ecologic TPs", "Ecologic TPs", "Climate TPs"],
   "range": ["M-1,-0.9H1V0.9H-1Z", "M-1,-0.5H1V-0.25H-1Z M-1,0.25H1V0.5H-1Z", "M-1,-0.9H1V0.9H-1Z", "M-1,-0.9H1V0.9H-1Z", "M-0.95,0.05h0.28v0.28h-0.28Z M-0.3,-0.55h0.28v0.28h-0.28Z M0.6,0.1h0.28v0.28h-0.28Z", "M-1,-1L-0.72,-1L1,0.72L1,1Z M-0.4,-1L-0.12,-1L1,0.12L1,0.4Z M0.2,-1L0.48,-1L1,-0.48L1,-0.2Z M-1,-0.68L0.68,1L0.4,1L-1,-0.4Z M-1,-0.08L0.08,1L-0.2,1L-1,0.2Z M-1,0.52L-0.52,1L-0.8,1L-1,0.8Z"]}},
 "fill": {"field": "series", "legend": null, "scale": {"domain": ["Transformation TPs", "Adaptation TPs", "Socio-economic TPs", "Socio-ecologic TPs", "Ecologic TPs", "Climate TPs"], "range": ["#808080", "#000000", "#000000", "#d9d9d9", "#000000", "#000000"]}}
 }},
{"mark": {"type": "text", "align": "left", "baseline": "middle", "dx": 13, "fontSize": 22, "color": "#000"},
 "encoding": {"text": {"field": "series"}}}
]
}
]
}
